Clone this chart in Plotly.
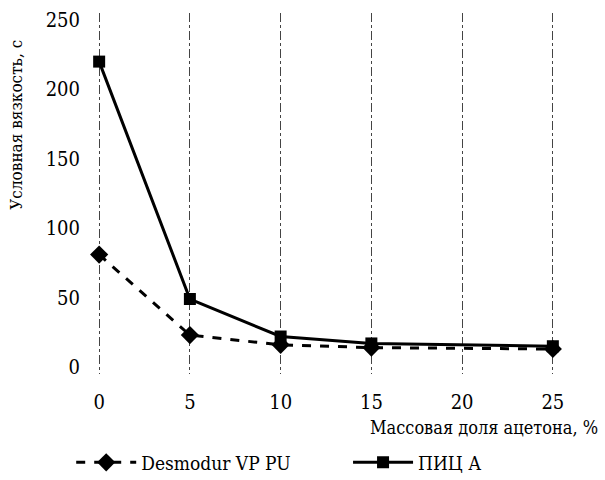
import plotly.graph_objects as go

x_vals = [0, 5, 10, 15, 25]
desmodur = [81, 23, 16, 14, 13]
pic_a = [220, 49, 22, 17, 15]
x_ticks = [0, 5, 10, 15, 20, 25]
y_ticks = [0, 50, 100, 150, 200, 250]

FONT = "DejaVu Serif Condensed, DejaVu Serif"

fig = go.Figure()
fig.add_trace(go.Scatter(
    x=x_vals, y=desmodur, name="Desmodur VP PU", mode="lines+markers",
    line=dict(color="black", width=3, dash="dash"),
    marker=dict(symbol="diamond", size=14, color="black"),
    cliponaxis=False, legend="legend",
))
fig.add_trace(go.Scatter(
    x=x_vals, y=pic_a, name="ПИЦ А", mode="lines+markers",
    line=dict(color="black", width=3),
    marker=dict(symbol="square", size=12, color="black"),
    cliponaxis=False, legend="legend2",
))

fig.update_layout(
    width=605, height=480,
    margin=dict(l=81, r=34, t=13, b=106, autoexpand=False),
    paper_bgcolor="white", plot_bgcolor="white",
    font=dict(family=FONT, size=20, color="black"),
    showlegend=True,
    legend=dict(x=-0.02, xanchor="left", y=-0.245, yanchor="middle",
                font=dict(family=FONT, size=19), itemwidth=60, bgcolor="rgba(0,0,0,0)"),
    legend2=dict(x=0.545, xanchor="left", y=-0.245, yanchor="middle",
                 font=dict(family=FONT, size=19), itemwidth=60, bgcolor="rgba(0,0,0,0)"),
    xaxis=dict(range=[-1, 26], tickvals=x_ticks, showline=False, zeroline=False,
               showgrid=True, gridcolor="#444", griddash="dashdot", gridwidth=1,
               ticks="", ticklabelstandoff=14, tickfont=dict(family=FONT, size=20),
               automargin=False),
    yaxis=dict(range=[-5, 255], tickvals=y_ticks, showline=False, zeroline=False,
               showgrid=False, ticks="", tickfont=dict(family=FONT, size=20),
               automargin=False),
    annotations=[
        dict(text="Массовая доля ацетона, %", xref="paper", yref="paper",
             x=1.059, y=-0.147, xanchor="right", yanchor="middle",
             showarrow=False, font=dict(family=FONT, size=18)),
        dict(text="Условная вязкость, с", xref="paper", yref="paper",
             x=-0.133, y=0.69, xanchor="center", yanchor="middle", textangle=-90,
             showarrow=False, font=dict(family=FONT, size=17)),
    ],
)

fig.write_html("out.html")
